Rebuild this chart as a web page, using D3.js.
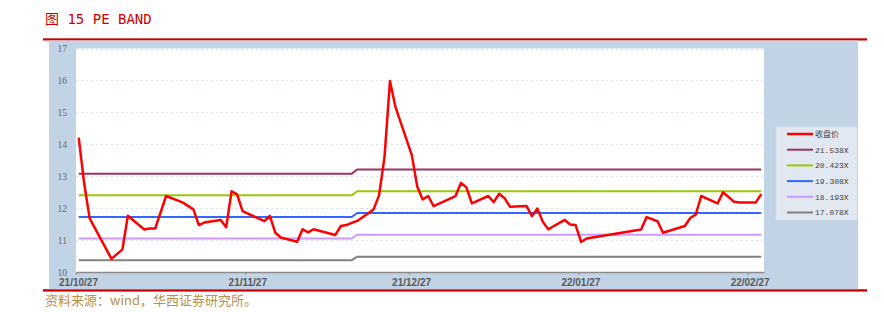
<!DOCTYPE html>
<html>
<head>
<meta charset="utf-8">
<script src="https://d3js.org/d3.v7.min.js"></script>
<style>
  body { margin: 0; background: #fff; }
  svg { display: block; }
</style>
</head>
<body>
<svg id="chart" width="884" height="312"></svg>
<script>
// ---- data ----
const priceName = "收盘价";
const priceDates = [
  "2021-10-27","2021-10-28","2021-10-29","2021-11-02","2021-11-04","2021-11-05",
  "2021-11-08","2021-11-09","2021-11-10","2021-11-12","2021-11-15","2021-11-17",
  "2021-11-18","2021-11-19","2021-11-22","2021-11-23","2021-11-24","2021-11-25",
  "2021-11-26","2021-11-30","2021-12-01","2021-12-02","2021-12-03","2021-12-06",
  "2021-12-07","2021-12-08","2021-12-09","2021-12-13","2021-12-14","2021-12-15",
  "2021-12-16","2021-12-17","2021-12-20","2021-12-21","2021-12-22","2021-12-23",
  "2021-12-24","2021-12-27","2021-12-28","2021-12-29","2021-12-30","2021-12-31",
  "2022-01-04","2022-01-05","2022-01-06","2022-01-07","2022-01-10","2022-01-11",
  "2022-01-12","2022-01-13","2022-01-14","2022-01-17","2022-01-18","2022-01-19",
  "2022-01-20","2022-01-21","2022-01-24","2022-01-25","2022-01-26","2022-01-27",
  "2022-01-28","2022-02-07","2022-02-08","2022-02-10","2022-02-11","2022-02-15",
  "2022-02-16","2022-02-17","2022-02-18","2022-02-21","2022-02-22","2022-02-24",
  "2022-02-25","2022-02-28","2022-03-01"
];
const priceValues = [
  14.21, 12.77, 11.68, 10.41, 10.71, 11.76,
  11.33, 11.36, 11.36, 12.38, 12.18, 11.96,
  11.47, 11.55, 11.63, 11.40, 12.53, 12.43,
  11.91, 11.59, 11.76, 11.23, 11.08, 10.95,
  11.34, 11.24, 11.34, 11.16, 11.44, 11.47,
  11.54, 11.60, 11.96, 12.40, 13.60, 15.98,
  15.17, 13.66, 12.67, 12.27, 12.38, 12.06,
  12.38, 12.79, 12.65, 12.15, 12.38, 12.19,
  12.45, 12.31, 12.04, 12.07, 11.75, 11.99,
  11.57, 11.34, 11.63, 11.49, 11.47, 10.94,
  11.05, 11.33, 11.72, 11.59, 11.23, 11.44,
  11.69, 11.80, 12.38, 12.15, 12.50, 12.20,
  12.18, 12.18, 12.44
];

// PE band lines (constant, stepping up on 12/17)
const bandNames = ["21.538X", "20.423X", "19.308X", "18.193X", "17.078X"];
const bandDates = ["2021-10-27", "2021-12-16", "2021-12-17", "2022-03-01"];
const band21538 = [13.08, 13.08, 13.21, 13.21];
const band20423 = [12.40, 12.40, 12.53, 12.53];
const band19308 = [11.72, 11.72, 11.85, 11.85];
const band18193 = [11.05, 11.05, 11.17, 11.17];
const band17078 = [10.37, 10.37, 10.48, 10.48];

const yTicks = [10, 11, 12, 13, 14, 15, 16, 17];
const xTickLabels = ["21/10/27", "21/11/27", "21/12/27", "22/01/27", "22/02/27"];
const axisEnd = "2022-03-02";

// ---- styles ----
const priceColor = "#ff0000";
const bandColors = ["#993366", "#99cc00", "#3366ff", "#cc99ff", "#808080"];

let svg = d3.select("svg#chart");
const parseDay = d3.timeParse("%Y-%m-%d");
const parseTick = d3.timeParse("%y/%m/%d");
const mid = d => d3.timeHour.offset(d, 12); // points sit in the middle of their day

const plot = { left: 76, right: 764, top: 48.5, bottom: 272 };

const xScale = d3.scaleTime()
  .domain([parseTick(xTickLabels[0]), parseDay(axisEnd)])
  .range([plot.left, plot.right]);
const yScale = d3.scaleLinear().domain([10, 17]).range([plot.bottom, plot.top]);

// red rules top and bottom
svg.append("rect").attr("x", 43).attr("y", 38.3).attr("width", 824).attr("height", 2.2).attr("fill", "#cc0000");
svg.append("rect").attr("x", 43).attr("y", 289.2).attr("width", 824).attr("height", 2.4).attr("fill", "#cc0000");

// blue-grey panel + white plot area
svg.append("rect").attr("x", 49).attr("y", 40.5).attr("width", 809).attr("height", 248.7).attr("fill", "#c2d3e6");
svg.append("rect").attr("x", plot.left).attr("y", plot.top)
  .attr("width", plot.right - plot.left).attr("height", plot.bottom - plot.top).attr("fill", "#ffffff");

// dotted gridlines
svg.append("g").selectAll("line")
  .data(yTicks.filter(t => t > 10))
  .join("line")
  .attr("x1", plot.left).attr("x2", plot.right)
  .attr("y1", d => Math.round(yScale(d)) + 0.5).attr("y2", d => Math.round(yScale(d)) + 0.5)
  .attr("stroke", "#d5e0f0").attr("stroke-width", 1).attr("stroke-dasharray", "2,3");

// y axis labels
let leftAxis = d3.axisLeft(yScale).tickValues(yTicks).tickFormat(d3.format("d")).tickSize(0).tickPadding(3);
let yG = svg.append("g").attr("transform", "translate(70,0)").call(leftAxis);
yG.select(".domain").remove();
yG.selectAll("text")
  .attr("fill", "#666")
  .style("font-family", "'Liberation Serif', serif")
  .style("font-size", "9.5px");

// band lines
const bandSeries = [band21538, band20423, band19308, band18193, band17078];
const line = d3.line().x(d => xScale(mid(d.date))).y(d => yScale(d.value));

bandSeries.forEach((vals, i) => {
  const pts = bandDates.map((d, j) => ({ date: parseDay(d), value: vals[j] }));
  svg.append("path")
    .datum(pts)
    .attr("d", line)
    .attr("fill", "none")
    .attr("stroke", bandColors[i])
    .attr("stroke-width", 2);
});

// closing price
const pricePts = priceDates.map((d, i) => ({ date: parseDay(d), value: priceValues[i] }));
svg.append("path")
  .datum(pricePts)
  .attr("d", line)
  .attr("fill", "none")
  .attr("stroke", priceColor)
  .attr("stroke-width", 2.5)
  .attr("stroke-linejoin", "round");

// x axis
let bottomAxis = d3.axisBottom(xScale)
  .tickValues(xTickLabels.map(parseTick))
  .tickFormat(d3.timeFormat("%y/%m/%d"))
  .tickSize(3).tickSizeOuter(0).tickPadding(4);
let xG = svg.append("g").attr("transform", `translate(0,${plot.bottom})`).call(bottomAxis);
xG.select(".domain").attr("stroke", "#8c8c8c").attr("stroke-width", 1.3);
xG.selectAll(".tick line").attr("stroke", "#8c8c8c");
xG.selectAll("text")
  .attr("dx", 2)
  .attr("fill", "#595959")
  .style("font-family", "'Liberation Sans', Arial, sans-serif")
  .style("font-size", "10px")
  .style("font-weight", "bold");

// legend
let legend = svg.append("g");
legend.append("rect")
  .attr("x", 776).attr("y", 127).attr("width", 81).attr("height", 93)
  .attr("fill", "#e2e8f1").attr("stroke", "#d3dbe6").attr("stroke-width", 0.8);
const legendNames = [priceName].concat(bandNames);
const legendColors = [priceColor].concat(bandColors);
legend.selectAll("line")
  .data(legendNames)
  .join("line")
  .attr("x1", 787).attr("x2", 813)
  .attr("y1", (d, i) => 134 + i * 15.7).attr("y2", (d, i) => 134 + i * 15.7)
  .attr("stroke", (d, i) => legendColors[i])
  .attr("stroke-width", (d, i) => i === 0 ? 2.5 : 2);
legend.selectAll("text")
  .data(legendNames)
  .join("text")
  .attr("x", 815)
  .attr("y", (d, i) => 134 + i * 15.7)
  .attr("dy", "0.35em")
  .attr("fill", "#444")
  .style("font-family", "'Liberation Mono', 'Noto Sans CJK SC', monospace")
  .style("font-size", "8px")
  .text(d => d);

// title and source
svg.append("text")
  .attr("x", 45).attr("y", 24)
  .attr("fill", "#cc0000")
  .style("font-family", "'DejaVu Sans Mono', 'Noto Sans CJK SC', monospace")
  .style("font-size", "14px")
  .text("图 15 PE BAND");

svg.append("text")
  .attr("x", 45).attr("y", 305)
  .attr("fill", "#b8904a")
  .style("font-family", "'Noto Sans CJK SC', sans-serif")
  .style("font-size", "13px")
  .text("资料来源：wind，华西证券研究所。");
</script>
</body>
</html>
